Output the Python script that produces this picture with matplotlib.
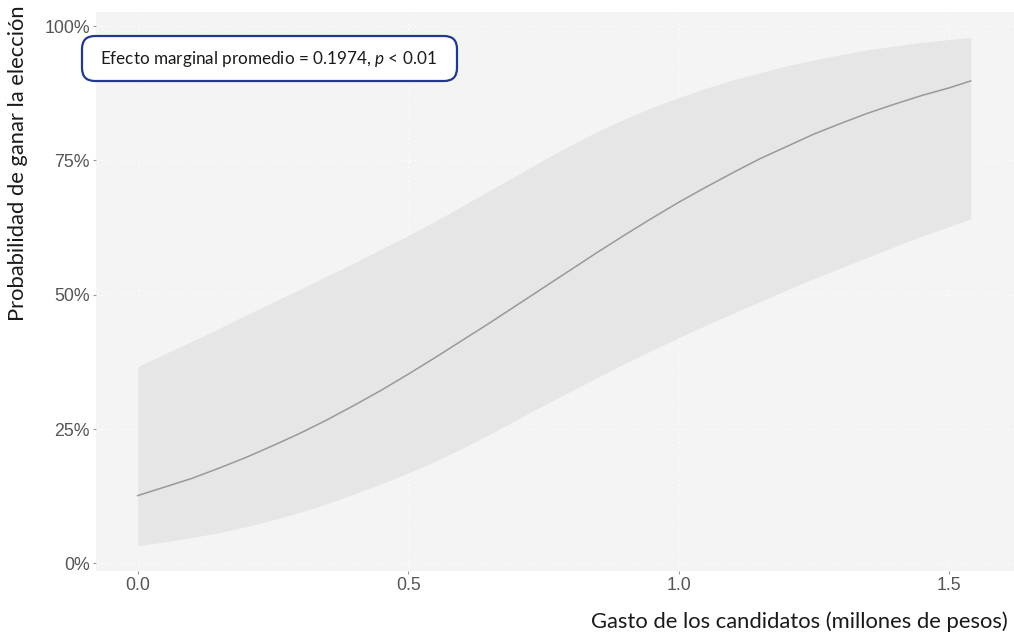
import matplotlib
matplotlib.use("Agg")
import matplotlib.pyplot as plt
from matplotlib.patches import FancyBboxPatch
from matplotlib.transforms import IdentityTransform
from matplotlib.ticker import FuncFormatter

# Predicted probability of winning vs. campaign spending (millions of pesos)
gasto = [0.00, 0.05, 0.10, 0.15, 0.20, 0.25, 0.30, 0.35, 0.40, 0.45,
         0.50, 0.55, 0.60, 0.65, 0.70, 0.75, 0.80, 0.85, 0.90, 0.95,
         1.00, 1.05, 1.10, 1.15, 1.20, 1.25, 1.30, 1.35, 1.40, 1.45,
         1.50, 1.54]
prob = [0.126, 0.142, 0.158, 0.177, 0.197, 0.219, 0.242, 0.267, 0.294, 0.322,
        0.352, 0.383, 0.415, 0.447, 0.480, 0.513, 0.546, 0.579, 0.611, 0.642,
        0.672, 0.700, 0.727, 0.753, 0.776, 0.799, 0.819, 0.838, 0.855, 0.871,
        0.885, 0.898]
ic_inf = [0.033, 0.040, 0.048, 0.057, 0.068, 0.081, 0.095, 0.111, 0.129, 0.148,
          0.168, 0.190, 0.214, 0.240, 0.267, 0.294, 0.320, 0.346, 0.372, 0.396,
          0.420, 0.443, 0.465, 0.487, 0.509, 0.530, 0.550, 0.570, 0.590, 0.609,
          0.627, 0.641]
ic_sup = [0.366, 0.390, 0.413, 0.437, 0.462, 0.486, 0.510, 0.535, 0.559, 0.585,
          0.610, 0.637, 0.665, 0.694, 0.722, 0.751, 0.778, 0.804, 0.827, 0.848,
          0.867, 0.884, 0.900, 0.913, 0.926, 0.937, 0.947, 0.956, 0.963, 0.970,
          0.975, 0.979]

x_ticks = [0.0, 0.5, 1.0, 1.5]
y_ticks = [0.0, 0.25, 0.50, 0.75, 1.0]
etiqueta = r"Efecto marginal promedio = 0.1974, $p$ < 0.01"
titulo_x = "Gasto de los candidatos (millones de pesos)"
titulo_y = "Probabilidad de ganar la elección"

plt.rcParams["mathtext.fontset"] = "custom"
plt.rcParams["mathtext.it"] = "Lato:italic"
plt.rcParams["mathtext.rm"] = "Lato"

W, H = 1014, 640
fig = plt.figure(figsize=(W / 100, H / 100), dpi=100)
ax = fig.add_axes([96 / W, 1 - 571 / H, (W - 96) / W, (571 - 12) / H])

ax.set_facecolor("#f4f4f4")
for s in ax.spines.values():
    s.set_visible(False)

ax.fill_between(gasto, ic_inf, ic_sup, color="#e6e6e6", lw=0, zorder=2)
ax.plot(gasto, prob, color="#999999", lw=1.1, zorder=3)

xr = max(gasto) - min(gasto)
ax.set_xlim(min(gasto) - 0.05 * xr, max(gasto) + 0.05 * xr + 0.003)
yr = max(ic_sup) - min(ic_inf)
ax.set_ylim(min(ic_inf) - 0.05 * yr, max(ic_sup) + 0.05 * yr)

ax.set_xticks(x_ticks)
ax.set_yticks(y_ticks)
ax.xaxis.set_major_formatter(FuncFormatter(lambda v, _: f"{v:.1f}"))
ax.yaxis.set_major_formatter(FuncFormatter(lambda v, _: f"{v*100:.0f}%"))
ax.tick_params(axis="both", colors="#999999", length=2.5, width=0.8,
               labelcolor="#555555", labelsize=12.8, pad=2)
for lab in ax.get_xticklabels() + ax.get_yticklabels():
    lab.set_family("Liberation Sans")

ax.grid(True, color="white", lw=0.9, ls=(0, (1, 2.8)), zorder=1)
ax.set_axisbelow(True)

fig.text(1008 / W, 1 - 622 / H, titulo_x, ha="right", va="center",
         family="Lato", fontsize=15.8, color="#1a1a1a")
fig.text(18 / W, 1 - 5 / H, titulo_y, ha="center", va="top", rotation=90,
         family="Lato", fontsize=15.8, color="#1a1a1a")

# Rounded annotation box in pixel coordinates
box = FancyBboxPatch((82, H - 81), 375, 45,
                     boxstyle="round,pad=0,rounding_size=13",
                     transform=IdentityTransform(), facecolor="white",
                     edgecolor="#22398e", lw=1.6, zorder=10)
fig.patches.append(box)
fig.text(268 / W, 1 - 59 / H, etiqueta, ha="center", va="center",
         family="Lato", fontsize=12.3, color="#1a1a1a", zorder=11)

fig.savefig("out.png", dpi=100)
